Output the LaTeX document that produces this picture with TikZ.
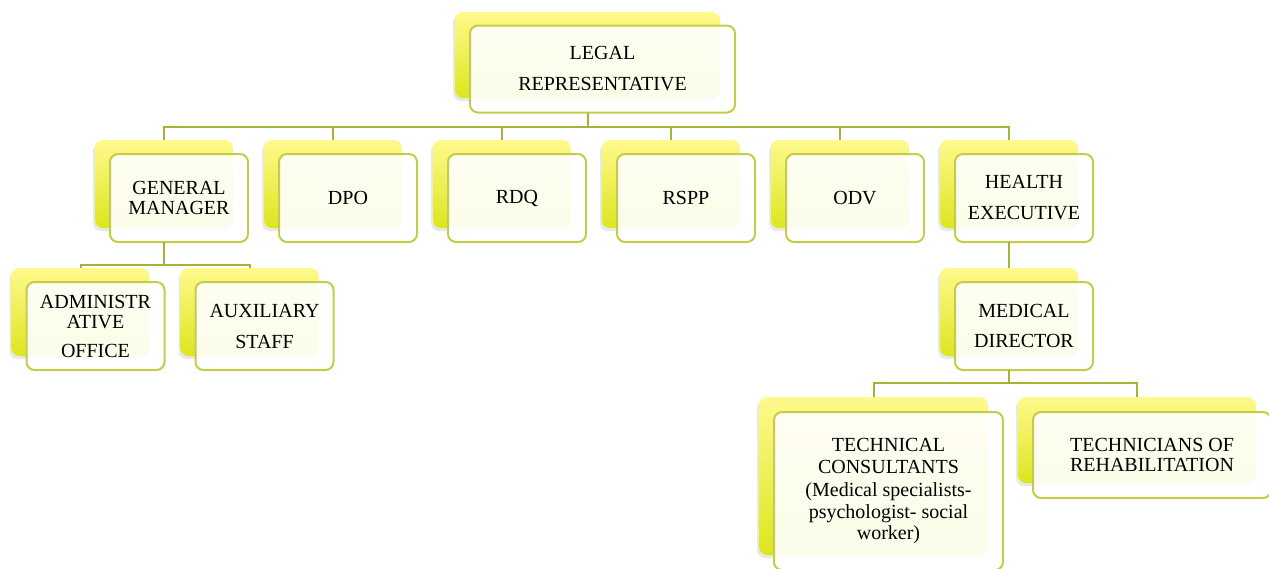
\documentclass[tikz,border=0pt]{standalone}
\usepackage{fontspec}
\setmainfont{Liberation Serif}
\usetikzlibrary{positioning,shadows}
\definecolor{OrgYellow}{HTML}{FFF98C}
\definecolor{OrgLime}{HTML}{DCE61E}
\definecolor{OrgEdge}{HTML}{C5CD48}
\definecolor{OrgLine}{HTML}{A7B236}

\begin{document}
\begin{tikzpicture}[x=1pt,y=-1pt,
  back/.style={rounded corners=8pt,top color=OrgYellow,bottom color=OrgLime,minimum width=138pt,minimum height=88pt,outer sep=0pt,inner sep=0pt,
    drop shadow={shadow xshift=-2pt,shadow yshift=-3pt,opacity=.18}},
  front/.style={draw=OrgEdge,line width=2pt,rounded corners=8pt,fill=white,fill opacity=.9,text opacity=1,minimum width=138pt,minimum height=88pt,
    outer sep=0pt,inner sep=2pt,align=center,font=\fontsize{20}{20}\selectfont},
  link/.style={draw=OrgLine,line width=2pt}]
\useasboundingbox (0,0) rectangle (1269,568);

% top
\node[back,minimum width=265pt,minimum height=86pt] (lr) at (587.5,55) {};
\node[front,minimum width=265pt,minimum height=87pt] (lrf) at ([shift={(15,14)}]lr.center) {LEGAL\\[11pt]REPRESENTATIVE};

% second row
\node[back] (gm) at (164,184) {};
\node[back,right=31pt of gm] (dpo) {};
\node[back,right=31pt of dpo] (rdq) {};
\node[back,right=31pt of rdq] (rspp) {};
\node[back,right=31pt of rspp] (odv) {};
\node[back,right=31pt of odv] (he) {};
\node[front] (gmf) at ([shift={(15,14)}]gm.center) {GENERAL\\MANAGER};
\node[front] (dpof) at ([shift={(15,14)}]dpo.center) {DPO};
\node[front] (rdqf) at ([shift={(15,14)}]rdq.center) {RDQ};
\node[front] (rsppf) at ([shift={(15,14)}]rspp.center) {RSPP};
\node[front] (odvf) at ([shift={(15,14)}]odv.center) {ODV};
\node[front] (hef) at ([shift={(15,14)}]he.center) {HEALTH\\[11pt]EXECUTIVE};

% under the general manager
\node[back] (ad) at (80.5,312) {};
\node[back,right=31pt of ad] (aux) {};
\node[front] (adf) at ([shift={(15,14)}]ad.center) {ADMINISTR\\ATIVE\\[9pt]OFFICE};
\node[front] (auxf) at ([shift={(15,14)}]aux.center) {AUXILIARY\\[11pt]STAFF};

% under the health executive
\node[back,below=40pt of he] (md) {};
\node[front] (mdf) at ([shift={(15,14)}]md.center) {MEDICAL\\[10pt]DIRECTOR};
\node[back,minimum width=229pt,minimum height=158pt] (tc) at (873.5,476) {};
\node[back,minimum width=238pt,minimum height=86pt,anchor=north west] (tr) at ([xshift=30pt]tc.north east) {};
\node[front,minimum width=229pt,minimum height=158pt,font=\fontsize{20}{21.5}\selectfont] (tcf) at ([shift={(15,15)}]tc.center)
  {TECHNICAL\\CONSULTANTS\\[2pt](Medical specialists-\\psychologist- social\\worker)};
\node[front,minimum width=238pt,minimum height=86pt] (trf) at ([shift={(15,15)}]tr.center) {TECHNICIANS OF\\REHABILITATION};

% connectors
\foreach \c in {gm,dpo,rdq,rspp,odv,he}
  \draw[link] (lr.center |- lrf.south) -- ++(0,14) -| (\c.north);
\foreach \c in {ad,aux}
  \draw[link] (gm.center |- gmf.south) -- ++(0,23) -| (\c.north);
\draw[link] (he.center |- hef.south) -- (md.north);
\foreach \c in {tc,tr}
  \draw[link] (md.center |- mdf.south) -- ++(0,13) -| (\c.north);
\end{tikzpicture}
\end{document}
